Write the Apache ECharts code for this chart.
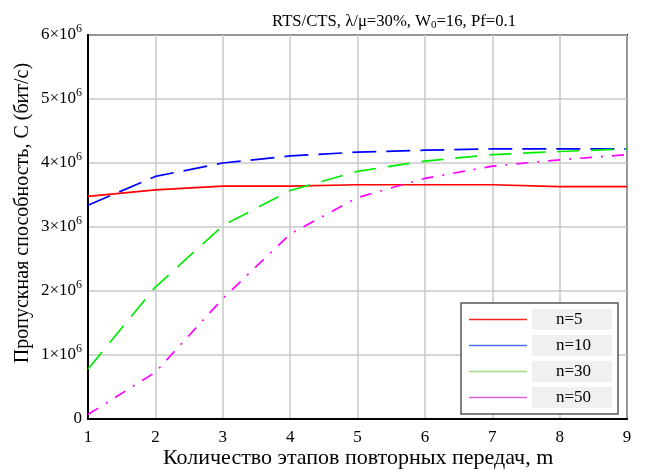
<!DOCTYPE html>
<html><head><meta charset="utf-8">
<script src="https://cdn.jsdelivr.net/npm/echarts@6/dist/echarts.min.js"></script>
<style>html,body{margin:0;padding:0;background:#fff}#c{width:649px;height:472px}</style>
</head><body><div id="c"></div>
<script>
const mValues = [1, 2, 3, 4, 5, 6, 7, 8, 9];
const n5  = [3.48e6, 3.58e6, 3.64e6, 3.64e6, 3.66e6, 3.66e6, 3.66e6, 3.63e6, 3.63e6];
const n10 = [3.34e6, 3.79e6, 4.00e6, 4.11e6, 4.17e6, 4.20e6, 4.22e6, 4.22e6, 4.22e6];
const n30 = [0.78e6, 2.06e6, 3.02e6, 3.57e6, 3.87e6, 4.03e6, 4.13e6, 4.18e6, 4.22e6];
const n50 = [0.07e6, 0.73e6, 1.88e6, 2.89e6, 3.46e6, 3.76e6, 3.95e6, 4.05e6, 4.13e6];
const seriesNames = ['n=5', 'n=10', 'n=30', 'n=50'];
const yTickMantissas = [0, 1, 2, 3, 4, 5, 6];
const xAxisTitle = 'Количество этапов повторных передач, m';
const yAxisTitle = 'Пропускная способность, C (бит/с)';

const font = '"Liberation Serif", "Times New Roman", serif';
const chart = echarts.init(document.getElementById('c'));
function pairs(arr){ return arr.map((v,i)=>[mValues[i], v]); }
const lineColors = ['#ff0000', '#0000ff', '#00ee00', '#ff00ff'];
const legendColors = ['#ff2020', '#5070f0', '#a8dc80', '#e060e0'];
chart.setOption({
  animation: false,
  backgroundColor: '#fff',
  title: {
    text: 'RTS/CTS, λ/μ=30%, W{sub|0}=16, Pf=0.1',
    left: 267, top: 7,
    textStyle: { fontFamily: font, fontSize: 16.7, fontWeight: 'normal', color: '#000',
      rich: { sub: { fontFamily: font, fontSize: 11, color:'#000', padding: [8,0,0,0] } } }
  },
  graphic: [
    { type: 'text', left: 163, top: 447, style: { text: xAxisTitle, fontFamily: font, fontSize: 22, fill: '#000' } },
    { type: 'text', x: 23, y: 213, rotation: Math.PI/2, style: { text: yAxisTitle, fontFamily: font, fontSize: 20, fill: '#000', align: 'center', verticalAlign: 'middle' } }
  ],
  grid: { left: 88, right: 22, top: 35, bottom: 53, show: true, borderColor: '#000', borderWidth: 2, backgroundColor: 'transparent' },
  legend: {
    orient: 'vertical', left: 461, top: 303,
    icon: 'rect',
    backgroundColor: '#fff', borderColor: '#555', borderWidth: 1.5,
    padding: [6, 6, 6, 8],
    itemWidth: 58, itemHeight: 1.5, itemGap: 5,
    textStyle: { fontFamily: font, fontSize: 17, lineHeight: 20, color: '#000', backgroundColor: '#f0f0f0', width: 48, padding: [1, 8, 0, 24] },
    data: seriesNames.map((n, i) => ({ name: n, itemStyle: { color: legendColors[i] } }))
  },
  xAxis: {
    type: 'value', min: 1, max: 9, interval: 1,
    axisLine: { show: true, lineStyle: { color: '#000', width: 2 } },
    axisTick: { show: false },
    axisLabel: { fontFamily: font, fontSize: 17, color: '#000', margin: 10 },
    splitLine: { show: true, lineStyle: { color: '#c8c8c8', width: 1.5 } }
  },
  yAxis: {
    type: 'value', min: 0, max: 6e6, interval: 1e6,
    axisLine: { show: true, lineStyle: { color: '#000', width: 2 } },
    axisTick: { show: false },
    axisLabel: {
      fontFamily: font, fontSize: 17, color: '#000', margin: 6,
      formatter: function(v){ const k = Math.round(v/1e6); return k===0 ? '0' : '{m|'+yTickMantissas[k]+'×10}{s|6}'; },
      rich: { m: { fontFamily: font, fontSize: 17, color: '#000' }, s: { fontFamily: font, fontSize: 12, color: '#000', padding: [0,0,12,0] } }
    },
    splitLine: { show: true, lineStyle: { color: '#c8c8c8', width: 1.5 } }
  },
  series: [
    { name: seriesNames[0], type: 'line', symbol: 'none', data: pairs(n5), color: lineColors[0], lineStyle: { color: lineColors[0], width: 1.7, type: 'solid' } },
    { name: seriesNames[1], type: 'line', symbol: 'none', data: pairs(n10), color: lineColors[1], lineStyle: { color: lineColors[1], width: 1.7, type: [24, 10] } },
    { name: seriesNames[2], type: 'line', symbol: 'none', data: pairs(n30), color: lineColors[2], lineStyle: { color: lineColors[2], width: 1.7, type: [22, 12] } },
    { name: seriesNames[3], type: 'line', symbol: 'none', data: pairs(n50), color: lineColors[3], lineStyle: { color: lineColors[3], width: 1.7, type: [12, 9, 2, 9] } }
  ]
});
</script></body></html>
